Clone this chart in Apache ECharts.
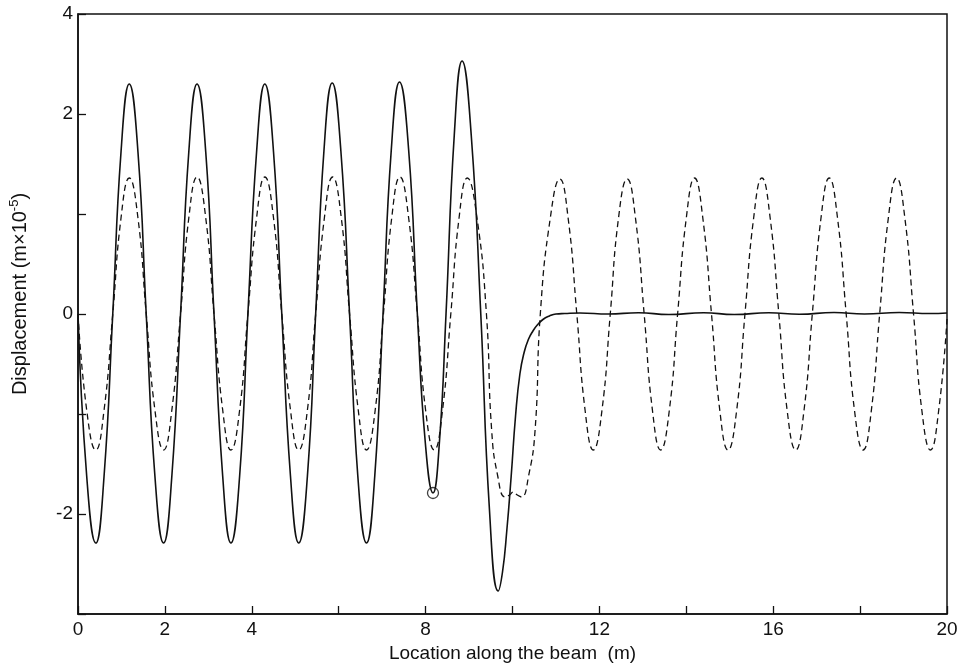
<!DOCTYPE html>
<html>
<head>
<meta charset="utf-8">
<script src="https://cdn.jsdelivr.net/npm/echarts@6/dist/echarts.min.js"></script>
<style>
  html, body { margin: 0; padding: 0; background: #fff; }
  #chart { width: 967px; height: 670px; }
</style>
</head>
<body>
<div id="chart"></div>
<script>
// Beam displacement along the beam: solid = with attachment, dashed = free travelling wave.
const xTickLabels = [0, 2, 4, 8, 12, 16, 20];
// Labelled y ticks (value on the axis -> printed text); the top tick is printed as "4"
const yTickValues = [3, 2, 0, -2];
const yTickLabels = ['4', '2', '0', '-2'];

// Solid curve [location (m), displacement (m x 1e-5)]
const solidCurve = [
  [0.00, 0.00], [0.20, -1.62], [0.41, -2.29], [0.60, -1.62], [0.80, 0.00], [0.99, 1.62], [1.18, 2.30],
  [1.38, 1.62], [1.57, 0.00], [1.77, -1.62], [1.97, -2.29], [2.16, -1.62], [2.36, 0.00], [2.55, 1.62], [2.74, 2.30],
  [2.94, 1.62], [3.13, 0.00], [3.33, -1.62], [3.52, -2.29], [3.72, -1.62], [3.91, 0.00], [4.11, 1.62], [4.30, 2.30],
  [4.50, 1.62], [4.69, 0.00], [4.89, -1.62], [5.08, -2.29], [5.28, -1.62], [5.47, 0.00], [5.66, 1.63], [5.85, 2.31],
  [6.05, 1.63], [6.25, 0.00], [6.44, -1.62], [6.64, -2.29], [6.83, -1.62], [7.02, 0.00], [7.21, 1.64], [7.40, 2.32],
  [7.61, 1.64], [7.81, 0.00], [7.99, -1.27], [8.17, -1.79], [8.32, -1.27], [8.47, 0.00], [8.66, 1.79], [8.84, 2.53],
  [9.05, 1.79], [9.27, 0.00], [9.47, -1.96], [9.67, -2.77], [9.77, -2.58], [9.87, -2.16], [9.97, -1.62], [10.07, -1.02],
  [10.17, -0.60], [10.27, -0.38], [10.37, -0.25], [10.47, -0.17], [10.57, -0.11], [10.70, -0.055], [10.85, -0.02],
  [11.00, 0.0], [11.20, 0.005], [11.55, 0.01], [12.2, 0.0], [12.9, 0.012], [13.6, -0.005], [14.4, 0.012], [15.1, -0.005],
  [15.9, 0.012], [16.6, -0.002], [17.4, 0.015], [18.1, 0.0], [18.9, 0.015], [19.6, 0.005], [20.0, 0.01]
];

// Dashed curve [location (m), displacement (m x 1e-5)]
const dashedCurve = [
  [0.00, 0.00], [0.20, -0.96], [0.41, -1.36], [0.60, -0.96], [0.80, 0.00], [0.99, 0.96], [1.18, 1.36],
  [1.38, 0.96], [1.57, 0.00], [1.77, -0.96], [1.97, -1.36], [2.16, -0.96], [2.36, 0.00], [2.55, 0.96], [2.74, 1.37],
  [2.94, 0.96], [3.13, 0.00], [3.33, -0.96], [3.52, -1.36], [3.72, -0.96], [3.91, 0.00], [4.11, 0.96], [4.30, 1.37],
  [4.50, 0.96], [4.69, 0.00], [4.89, -0.96], [5.08, -1.36], [5.28, -0.96], [5.47, 0.00], [5.67, 0.96], [5.86, 1.37],
  [6.06, 0.96], [6.25, 0.00], [6.45, -0.96], [6.64, -1.36], [6.84, -0.96], [7.03, 0.00], [7.22, 0.96], [7.41, 1.37],
  [7.61, 0.96], [7.81, 0.00], [8.00, -0.96], [8.20, -1.36], [8.39, -0.96], [8.58, 0.00], [8.77, 0.96], [8.96, 1.36],
  [9.18, 0.97], [9.40, 0.00], [9.52, -1.16], [9.66, -1.62], [9.83, -1.83], [9.93, -1.81], [10.02, -1.78],
  [10.11, -1.81], [10.21, -1.83], [10.37, -1.62], [10.52, -1.16], [10.64, 0.00], [10.87, 0.96], [11.09, 1.35],
  [11.28, 0.96], [11.48, 0.00], [11.67, -0.96], [11.86, -1.36], [12.06, -0.96], [12.25, 0.00], [12.44, 0.96], [12.64, 1.35],
  [12.83, 0.96], [13.03, 0.00], [13.22, -0.96], [13.41, -1.36], [13.61, -0.96], [13.80, 0.00], [14.00, 0.96], [14.19, 1.36],
  [14.38, 0.96], [14.58, 0.00], [14.77, -0.96], [14.96, -1.36], [15.16, -0.96], [15.35, 0.00], [15.55, 0.96], [15.74, 1.36],
  [15.93, 0.96], [16.13, 0.00], [16.32, -0.96], [16.52, -1.36], [16.71, -0.96], [16.90, 0.00], [17.10, 0.96], [17.29, 1.36],
  [17.48, 0.96], [17.68, 0.00], [17.87, -0.96], [18.07, -1.36], [18.26, -0.96], [18.45, 0.00], [18.65, 0.96], [18.84, 1.36],
  [19.03, 0.96], [19.23, 0.00], [19.42, -0.96], [19.62, -1.36], [19.81, -0.96], [20.00, -0.05]
];

// Marked point (open circle)
const markedPoint = [[8.17, -1.79]];

const FONT = '"Liberation Sans", Arial, Helvetica, sans-serif';
const INK = '#111';

const chart = echarts.init(document.getElementById('chart'), null, { renderer: 'canvas' });
chart.setOption({
  animation: false,
  backgroundColor: '#fff',
  grid: {
    left: 77, right: 20, top: 14, bottom: 56,
    show: true, borderColor: INK, borderWidth: 1.5, backgroundColor: 'transparent'
  },
  xAxis: {
    type: 'value', min: 0, max: 20, interval: 2,
    name: 'Location along the beam  (m)',
    nameLocation: 'middle', nameGap: 20,
    nameTextStyle: { fontFamily: FONT, fontSize: 19, color: INK },
    axisLine: { show: true, onZero: false, lineStyle: { color: INK, width: 1.5 } },
    axisTick: { show: true, inside: true, length: 8, lineStyle: { color: INK, width: 1.3 } },
    splitLine: { show: false },
    axisLabel: {
      margin: 6, fontFamily: FONT, fontSize: 19, color: INK,
      formatter: v => xTickLabels.includes(v) ? String(v) : ''
    }
  },
  yAxis: {
    type: 'value', min: -3, max: 3, interval: 1,
    name: '{a|Displacement (m×10}{s|-5}{a|)}',
    nameLocation: 'middle', nameGap: 46, nameRotate: 90,
    nameTextStyle: {
      fontFamily: FONT, color: INK, padding: [0, 0, 0, 40],
      rich: {
        a: { fontFamily: FONT, fontSize: 20, color: INK, lineHeight: 24 },
        s: { fontFamily: FONT, fontSize: 13, color: INK, verticalAlign: 'top', lineHeight: 24 }
      }
    },
    axisLine: { show: true, onZero: false, lineStyle: { color: INK, width: 1.5 } },
    axisTick: { show: true, inside: true, length: 8, lineStyle: { color: INK, width: 1.3 } },
    splitLine: { show: false },
    axisLabel: {
      margin: 5, fontFamily: FONT, fontSize: 19, color: INK,
      formatter: v => {
        const i = yTickValues.indexOf(v);
        return i >= 0 ? yTickLabels[i] : '';
      }
    }
  },
  series: [
    {
      type: 'line', data: dashedCurve, smooth: 0.5, showSymbol: false, silent: true,
      lineStyle: { color: INK, width: 1.3, type: [6, 4] }
    },
    {
      type: 'line', data: solidCurve, smooth: 0.5, showSymbol: false, silent: true,
      lineStyle: { color: INK, width: 1.6 }
    },
    {
      type: 'scatter', data: markedPoint, symbol: 'circle', symbolSize: 11, silent: true,
      itemStyle: { color: 'rgba(0,0,0,0)', borderColor: INK, borderWidth: 1.3 }
    }
  ]
});
</script>
</body>
</html>
